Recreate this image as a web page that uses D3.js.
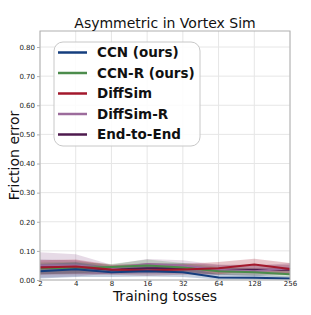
<!DOCTYPE html>
<html>
<head>
<meta charset="utf-8">
<script src="https://cdn.jsdelivr.net/npm/d3@7"></script>
<style>
  body { margin: 0; background: #fff; }
  text { font-family: "DejaVu Sans", sans-serif; }
</style>
</head>
<body>
<svg id="chart" width="311" height="315"></svg>
<script>
// dati
const tosses = [2, 4, 8, 16, 32, 64, 128, 256];
const yTicks = [0, 0.1, 0.2, 0.3, 0.4, 0.5, 0.6, 0.7, 0.8];

const seriesNames = ["CCN (ours)", "CCN-R (ours)", "DiffSim", "DiffSim-R", "End-to-End"];
const seriesColors = ["#153e7e", "#4c8c4c", "#a3182c", "#9c6c9c", "#4e1a4e"];

const ccnMean = [0.030, 0.037, 0.027, 0.030, 0.027, 0.009, 0.008, 0.005];
const ccnLo   = [0.005, 0.010, 0.010, 0.012, 0.010, 0.002, 0.002, 0.001];
const ccnHi   = [0.055, 0.060, 0.045, 0.048, 0.045, 0.020, 0.018, 0.012];

const ccnrMean = [0.040, 0.042, 0.045, 0.050, 0.043, 0.030, 0.027, 0.020];
const ccnrLo   = [0.020, 0.022, 0.030, 0.030, 0.028, 0.018, 0.015, 0.010];
const ccnrHi   = [0.060, 0.062, 0.055, 0.070, 0.058, 0.045, 0.040, 0.032];

const diffMean = [0.043, 0.046, 0.036, 0.033, 0.036, 0.040, 0.053, 0.038];
const diffLo   = [0.018, 0.020, 0.018, 0.015, 0.018, 0.020, 0.032, 0.020];
const diffHi   = [0.068, 0.070, 0.052, 0.055, 0.055, 0.062, 0.073, 0.058];

const diffrMean = [0.050, 0.050, 0.040, 0.055, 0.050, 0.035, 0.030, 0.040];
const diffrLo   = [0.008, 0.012, 0.022, 0.035, 0.030, 0.018, 0.015, 0.022];
const diffrHi   = [0.095, 0.088, 0.052, 0.072, 0.068, 0.052, 0.048, 0.058];

const e2eMean = [0.045, 0.045, 0.035, 0.040, 0.040, 0.035, 0.035, 0.035];
const e2eLo   = [0.020, 0.022, 0.020, 0.022, 0.022, 0.018, 0.018, 0.018];
const e2eHi   = [0.070, 0.068, 0.050, 0.058, 0.058, 0.052, 0.052, 0.052];

const means = [ccnMean, ccnrMean, diffMean, diffrMean, e2eMean];
const lows = [ccnLo, ccnrLo, diffLo, diffrLo, e2eLo];
const highs = [ccnHi, ccnrHi, diffHi, diffrHi, e2eHi];

const svg = d3.select("#chart");
const margin = { left: 40, right: 21, top: 31, bottom: 35 };
const width = 311, height = 315;

const x = d3.scaleLog().base(2).domain([2, 256]).range([margin.left, width - margin.right]);
const y = d3.scaleLinear().domain([0, 0.855]).range([height - margin.bottom, margin.top]);

// griglia
svg.append("g").selectAll("line").data(tosses).enter().append("line")
  .attr("x1", d => x(d)).attr("x2", d => x(d))
  .attr("y1", margin.top).attr("y2", height - margin.bottom)
  .attr("stroke", "#e6e6e6").attr("stroke-width", 1);
svg.append("g").selectAll("line").data(yTicks).enter().append("line")
  .attr("x1", margin.left).attr("x2", width - margin.right)
  .attr("y1", d => y(d)).attr("y2", d => y(d))
  .attr("stroke", "#e6e6e6").attr("stroke-width", 1);

// bande e linee
const area = d3.area().x((d, i) => x(tosses[i])).y0(d => y(d[0])).y1(d => y(d[1]));
const line = d3.line().x((d, i) => x(tosses[i])).y(d => y(d));

// ordine di disegno: l'ultimo sopra
const order = [4, 3, 1, 2, 0];
order.forEach(k => {
  const band = lows[k].map((v, i) => [v, highs[k][i]]);
  svg.append("path").datum(band).attr("d", area)
    .attr("fill", seriesColors[k]).attr("fill-opacity", 0.25).attr("stroke", "none");
});
order.forEach(k => {
  svg.append("path").datum(means[k]).attr("d", line)
    .attr("fill", "none").attr("stroke", seriesColors[k]).attr("stroke-width", 2);
});

// cornice
svg.append("rect")
  .attr("x", margin.left).attr("y", margin.top)
  .attr("width", width - margin.left - margin.right)
  .attr("height", height - margin.top - margin.bottom)
  .attr("fill", "none").attr("stroke", "#b0b0b0").attr("stroke-width", 1);

// assi
const xAxis = svg.append("g").attr("transform", `translate(0,${height - margin.bottom})`)
  .call(d3.axisBottom(x).tickValues(tosses).tickFormat(d3.format("d")).tickSize(0).tickPadding(1));
const yAxis = svg.append("g").attr("transform", `translate(${margin.left},0)`)
  .call(d3.axisLeft(y).tickValues(yTicks).tickFormat(d3.format(".2f")).tickSize(3).tickPadding(2));
[xAxis, yAxis].forEach(a => {
  a.select(".domain").remove();
  a.selectAll("line").attr("stroke", "#b0b0b0");
  a.selectAll("text").attr("fill", "#222").style("font-size", "7px");
});

// titoli
svg.append("text").attr("x", (margin.left + width - margin.right) / 2).attr("y", 28)
  .attr("text-anchor", "middle").style("font-size", "14px").attr("fill", "#111")
  .text("Asymmetric in Vortex Sim");
svg.append("text").attr("x", (margin.left + width - margin.right) / 2).attr("y", 301)
  .attr("text-anchor", "middle").style("font-size", "14px").attr("fill", "#111")
  .text("Training tosses");
svg.append("text")
  .attr("transform", `translate(19,${(margin.top + height - margin.bottom) / 2}) rotate(-90)`)
  .attr("text-anchor", "middle").style("font-size", "14px").attr("fill", "#111")
  .text("Friction error");

// legenda
const lg = svg.append("g").attr("transform", "translate(54,42)");
lg.append("rect").attr("width", 146).attr("height", 104).attr("rx", 9)
  .attr("fill", "#fff").attr("fill-opacity", 0.85)
  .attr("stroke", "#c8c8c8").attr("stroke-width", 1);
seriesNames.forEach((name, i) => {
  const yy = 10.5 + i * 20.5;
  lg.append("line").attr("x1", 4).attr("x2", 33).attr("y1", yy).attr("y2", yy)
    .attr("stroke", seriesColors[i]).attr("stroke-width", 2.5);
  lg.append("text").attr("x", 43).attr("y", yy).attr("dy", "0.35em")
    .style("font-size", "13.5px").style("font-weight", "bold").attr("fill", "#111")
    .text(name);
});
</script>
</body>
</html>
